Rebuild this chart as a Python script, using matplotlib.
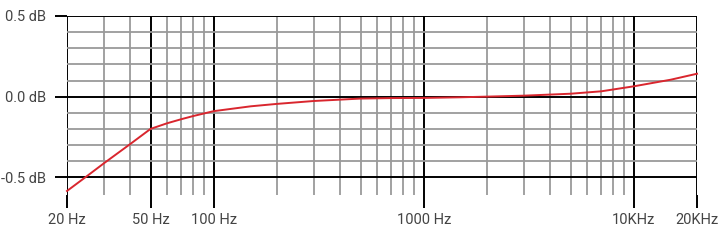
import numpy as np
import matplotlib.pyplot as plt
from matplotlib.ticker import FixedLocator, NullFormatter

# frequency response
freq = [20, 25, 30, 40, 50, 60, 70, 80, 100, 150, 200, 300, 500, 700, 1000,
        1500, 2000, 3000, 5000, 7000, 10000, 15000, 20000]
level = [-0.585, -0.491, -0.413, -0.294, -0.20, -0.165, -0.14, -0.12, -0.09, -0.06, -0.045,
         -0.027, -0.012, -0.009, -0.008, -0.004, 0.0, 0.006, 0.018, 0.033, 0.064, 0.105, 0.142]

x_major = [20, 50, 100, 1000, 10000, 20000]
x_labels = ['20 Hz', '50 Hz', '100 Hz', '1000 Hz', '10KHz', '20KHz']
x_minor = [30, 40, 60, 70, 80, 90] + list(range(200, 1000, 100)) + list(range(2000, 10000, 1000))
y_major = [-0.5, 0.0, 0.5]
y_labels = ['-0.5 dB', '0.0 dB', '0.5 dB']
y_minor = [-0.4, -0.3, -0.2, -0.1, 0.1, 0.2, 0.3, 0.4]

plt.rcParams['font.family'] = ['Roboto', 'DejaVu Sans']

fig = plt.figure(figsize=(7.19, 2.4), dpi=100)
ax = fig.add_axes([67 / 719, 1 - 195 / 240, 630 / 719, 179 / 240])

ax.set_xscale('log')
ax.set_xlim(20, 20000)
ax.set_ylim(-0.61, 0.5)

ax.xaxis.set_major_locator(FixedLocator(x_major))
ax.xaxis.set_minor_locator(FixedLocator(x_minor))
ax.xaxis.set_minor_formatter(NullFormatter())
ax.set_xticks(x_major, x_labels)
ax.yaxis.set_major_locator(FixedLocator(y_major))
ax.yaxis.set_minor_locator(FixedLocator(y_minor))
ax.set_yticks(y_major, y_labels)

ax.grid(which='minor', color='#9a9a9a', linewidth=1.3)
ax.grid(which='major', color='black', linewidth=1.4)
ax.set_axisbelow(True)

ax.tick_params(which='major', length=9, width=1.4, color='black', labelsize=10.5,
               labelcolor='#444444', pad=4)
ax.tick_params(axis='y', which='major', pad=6)
ax.tick_params(which='minor', length=0)
for s in ax.spines.values():
    s.set_visible(False)

ax.plot(freq, level, color='#d9262e', linewidth=1.4, clip_on=False, zorder=5)

fig.savefig('out.png', dpi=100)
